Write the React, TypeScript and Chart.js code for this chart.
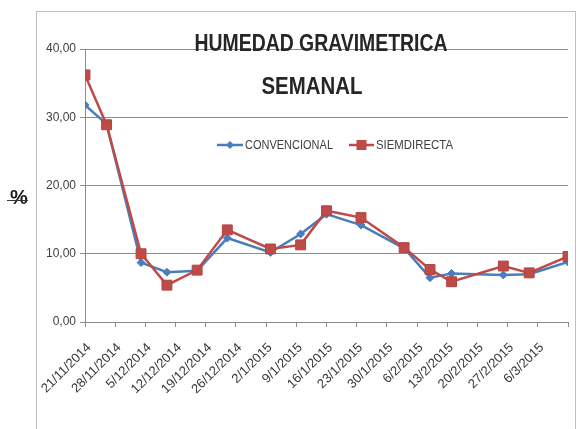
import React, { useEffect, useRef } from 'react';
import { Chart, registerables } from 'chart.js';

Chart.register(...registerables);

// ---- data ----
const startDate = '2014-11-21';
const sampleDates = [
  '2014-11-21', '2014-11-26', '2014-12-04', '2014-12-10', '2014-12-17', '2014-12-24',
  '2015-01-03', '2015-01-10', '2015-01-16', '2015-01-24', '2015-02-03', '2015-02-09',
  '2015-02-14', '2015-02-26', '2015-03-04', '2015-03-13',
];
const convencional = [31.8, 29.0, 8.7, 7.3, 7.5, 12.3, 10.2, 12.9, 15.8, 14.2, 10.8, 6.5, 7.1, 6.9, 7.0, 8.8];
const siembraDirecta = [36.2, 28.9, 10.0, 5.4, 7.6, 13.5, 10.7, 11.3, 16.3, 15.3, 10.9, 7.7, 5.9, 8.2, 7.2, 9.6];
const xTickLabels = [
  '21/11/2014', '28/11/2014', '5/12/2014', '12/12/2014', '19/12/2014', '26/12/2014',
  '2/1/2015', '9/1/2015', '16/1/2015', '23/1/2015', '30/1/2015', '6/2/2015',
  '13/2/2015', '20/2/2015', '27/2/2015', '6/3/2015', '',
];
const seriesNames = ['CONVENCIONAL', 'SIEMDIRECTA'];
const titleLines = ['HUMEDAD GRAVIMETRICA', 'SEMANAL'];
const yAxisTitle = '%';

const DAY = 86400000;
const dayOffset = (d: string) => Math.round((Date.parse(d) - Date.parse(startDate)) / DAY);

const BLUE = '#4a7ebb';
const RED = '#be4b48';
const TEXT = '#404040';
const FONT = "'Liberation Sans Narrow', 'Liberation Sans', Arial, sans-serif";

function scaledText(ctx: CanvasRenderingContext2D, text: string, x: number, y: number, width: number, font: string, align: 'center' | 'left') {
  ctx.save();
  ctx.font = font;
  const w = ctx.measureText(text).width;
  const sx = width / w;
  ctx.translate(x, y);
  ctx.scale(sx, 1);
  ctx.textAlign = align;
  ctx.textBaseline = 'middle';
  ctx.fillText(text, 0, 0);
  ctx.restore();
}

const decorPlugin = {
  id: 'decor',
  afterDraw(chart: any) {
    const ctx: CanvasRenderingContext2D = chart.ctx;
    ctx.save();
    // outer border
    ctx.strokeStyle = '#c0c0c0';
    ctx.lineWidth = 1;
    ctx.strokeRect(36.5, 11.5, 539, 430);

    // title
    ctx.fillStyle = '#262626';
    scaledText(ctx, titleLines[0], 321, 45, 253, `bold 23px 'Liberation Sans', Arial, sans-serif`, 'center');
    scaledText(ctx, titleLines[1], 312, 88, 101, `bold 23px 'Liberation Sans', Arial, sans-serif`, 'center');

    // y-axis title
    ctx.fillStyle = '#1a1a1a';
    ctx.font = `bold 20px 'Liberation Sans', Arial, sans-serif`;
    ctx.textAlign = 'center';
    ctx.textBaseline = 'middle';
    ctx.fillText(yAxisTitle, 19, 198);
    ctx.strokeStyle = '#333';
    ctx.lineWidth = 1;
    ctx.beginPath();
    ctx.moveTo(7, 200.5);
    ctx.lineTo(28, 200.5);
    ctx.stroke();

    // legend
    const ly = 145;
    ctx.lineWidth = 2.5;
    ctx.strokeStyle = BLUE;
    ctx.beginPath();
    ctx.moveTo(217, ly);
    ctx.lineTo(243, ly);
    ctx.stroke();
    ctx.fillStyle = BLUE;
    ctx.beginPath();
    ctx.moveTo(230, ly - 4);
    ctx.lineTo(234, ly);
    ctx.lineTo(230, ly + 4);
    ctx.lineTo(226, ly);
    ctx.closePath();
    ctx.fill();
    ctx.fillStyle = TEXT;
    scaledText(ctx, seriesNames[0], 245, ly, 88, `13px 'Liberation Sans', Arial, sans-serif`, 'left');

    ctx.strokeStyle = RED;
    ctx.beginPath();
    ctx.moveTo(349, ly);
    ctx.lineTo(374, ly);
    ctx.stroke();
    ctx.fillStyle = RED;
    ctx.fillRect(356.5, ly - 5, 10, 10);
    ctx.fillStyle = TEXT;
    scaledText(ctx, seriesNames[1], 376, ly, 77, `13px 'Liberation Sans', Arial, sans-serif`, 'left');
    ctx.restore();
  },
};

export default function App() {
  const ref = useRef<HTMLCanvasElement>(null);
  useEffect(() => {
    if (!ref.current) return;
    const xs = sampleDates.map(dayOffset);
    const chart = new Chart(ref.current, {
      type: 'line',
      data: {
        datasets: [
          {
            label: seriesNames[0],
            data: xs.map((x, i) => ({ x, y: convencional[i] })),
            borderColor: BLUE,
            backgroundColor: BLUE,
            borderWidth: 2.5,
            pointStyle: 'rectRot',
            pointRadius: 4,
            pointBorderWidth: 1,
            pointBackgroundColor: BLUE,
            pointBorderColor: BLUE,
            order: 1,
          },
          {
            label: seriesNames[1],
            data: xs.map((x, i) => ({ x, y: siembraDirecta[i] })),
            borderColor: RED,
            backgroundColor: RED,
            borderWidth: 2.5,
            pointStyle: 'rect',
            pointRadius: 7,
            pointBorderWidth: 1,
            pointBackgroundColor: RED,
            pointBorderColor: '#b04542',
            order: 0,
          },
        ],
      },
      options: {
        responsive: false,
        animation: false,
        devicePixelRatio: 1,
        layout: { padding: { left: 0, right: 14, top: 49, bottom: 0 } },
        plugins: {
          legend: { display: false },
          title: { display: false },
          tooltip: { enabled: false },
        },
        scales: {
          x: {
            type: 'linear',
            min: 0,
            max: 112,
            ticks: {
              stepSize: 7,
              autoSkip: false,
              maxRotation: 45,
              minRotation: 45,
              padding: 13,
              labelOffset: 4,
              color: '#383838',
              font: { family: FONT, size: 13 },
              callback: (_v: any, i: number) => xTickLabels[i] ?? '',
            },
            grid: { drawOnChartArea: false, drawTicks: true, tickLength: 5, color: '#8c8c8c' },
            border: { color: '#8c8c8c' },
            afterFit: (s: any) => { s.height = 107; s.paddingRight = 0; s.paddingLeft = 0; },
          },
          y: {
            min: 0,
            max: 40,
            ticks: {
              stepSize: 10,
              padding: 4,
              color: TEXT,
              font: { family: FONT, size: 12 },
              callback: (v: any) => Number(v).toFixed(2).replace('.', ','),
            },
            grid: { color: '#8c8c8c', lineWidth: 1, tickLength: 5 },
            border: { color: '#8c8c8c' },
            afterFit: (s: any) => { s.width = 85; },
          },
        },
      },
      plugins: [decorPlugin],
    });
    return () => chart.destroy();
  }, []);
  return (
    <div style={{ position: 'fixed', left: 0, top: 0, width: 582, height: 429, background: '#fff' }}>
      <canvas ref={ref} width={582} height={429} style={{ display: 'block' }} />
    </div>
  );
}
